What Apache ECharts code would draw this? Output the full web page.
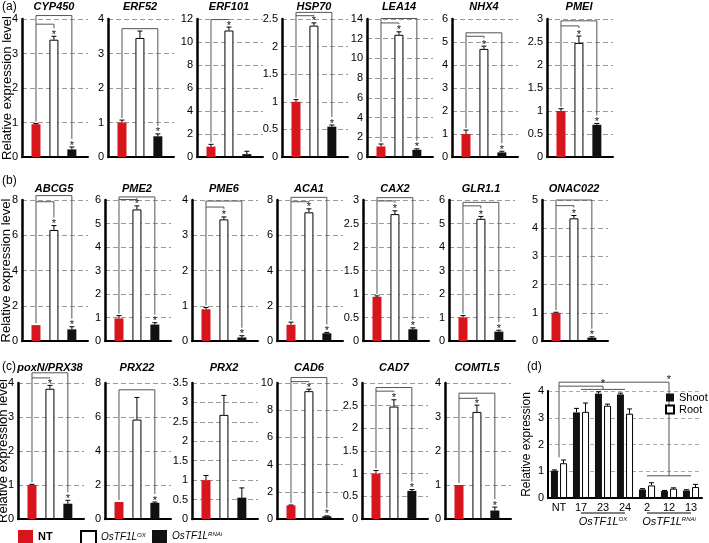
<!DOCTYPE html>
<html>
<head>
<meta charset="utf-8">
<title>OsTF1L target genes</title>
<script src="https://cdn.jsdelivr.net/npm/echarts@6/dist/echarts.min.js"></script>
<style>html,body{margin:0;padding:0;background:#fff}</style>
</head>
<body>
<div id="main" style="width:709px;height:543px;"></div>
<script type="text/javascript">
// panels (a)-(c), left to right, row by row
var genes = ['CYP450', 'ERF52', 'ERF101', 'HSP70', 'LEA14', 'NHX4', 'PMEI',
    'ABCG5', 'PME2', 'PME6', 'ACA1', 'CAX2', 'GLR1.1', 'ONAC022',
    'poxN/PRX38', 'PRX22', 'PRX2', 'CAD6', 'CAD7', 'COMTL5'];
var yMax  = [4, 4, 12, 2.5, 14, 6, 3,   8, 6, 4, 8, 3, 6, 5,   4, 8, 3.5, 10, 3, 4];
var yStep = [1, 1, 2, 0.5, 2, 1, 0.5,   2, 1, 1, 2, 0.5, 1, 1,   1, 2, 0.5, 2, 0.5, 1];

var ntVals = [0.95, 1.0, 0.9, 1.0, 1.07, 1.0, 1.0,   0.9, 0.96, 0.9, 0.92, 0.94, 1.0, 1.0,   1.0, 1.0, 1.0, 1.0, 1.0, 1.0];
var ntErr  = [0.02, 0.07, 0.2, 0.04, 0.25, 0.17, 0.05,   0, 0.12, 0.05, 0.15, 0.02, 0.08, 0.02,   0.02, 0, 0.12, 0.03, 0.07, 0];
var oxVals = [3.4, 3.45, 11.0, 2.38, 12.4, 4.7, 2.48,   6.3, 5.6, 3.45, 7.3, 2.7, 5.2, 4.35,   3.83, 5.85, 2.68, 9.4, 2.48, 3.15];
var oxErr  = [0.1, 0.2, 0.3, 0.05, 0.3, 0.12, 0.15,   0.25, 0.15, 0.07, 0.2, 0.07, 0.1, 0.1,   0.1, 1.3, 0.5, 0.15, 0.15, 0.2];
var riVals = [0.22, 0.6, 0.25, 0.55, 0.73, 0.2, 0.7,   0.66, 0.7, 0.1, 0.44, 0.25, 0.4, 0.12,   0.45, 0.95, 0.55, 0.2, 0.62, 0.25];
var riErr  = [0.07, 0.07, 0.25, 0.03, 0.1, 0.05, 0.03,   0.15, 0.08, 0.05, 0.05, 0.03, 0.06, 0.03,   0.1, 0.05, 0.25, 0.03, 0.03, 0.1];
var oxStar = [1, 0, 1, 1, 1, 1, 1,   1, 1, 1, 1, 1, 1, 1,   1, 0, 0, 1, 1, 1];
var riStar = [1, 1, 0, 1, 1, 1, 1,   1, 1, 1, 1, 1, 1, 1,   1, 1, 0, 1, 1, 1];
// bracket heights (data units) for NT-vs-OX and NT-vs-RNAi
var innerBr = [3.85, null, 11.95, 2.56, 13.6, 5.25, 2.85,   7.9, 6.02, 3.8, 7.9, 2.98, 5.75, 4.8,   4.15, null, null, 10.1, 2.82, 3.55];
var outerBr = [4.1, 3.72, null, 2.62, 14.05, 5.4, 2.96,   8.25, 6.13, 3.97, 8.15, 3.05, 5.9, 5.0,   4.3, 7.6, null, 10.4, 2.9, 3.7];

// panel (d)
var dLines = ['NT', '17', '23', '24', '2', '12', '13'];
var shootVals = [1.02, 3.2, 3.9, 3.87, 0.32, 0.26, 0.28];
var shootErr  = [0.03, 0.15, 0.07, 0.05, 0.03, 0.02, 0.03];
var rootVals  = [1.3, 3.22, 3.45, 3.15, 0.47, 0.35, 0.41];
var rootErr   = [0.12, 0.33, 0.06, 0.18, 0.1, 0.03, 0.1];

var FONT = 'Liberation Sans, Arial, Helvetica, sans-serif';
var RED = '#d8141c';

var rows = [
    {label: '(a)', labelY: 7, titleY: 7, top: 19, height: 138, nameGap: 8, lefts: [22, 108, 197, 282, 367, 452, 547]},
    {label: '(b)', labelY: 181, titleY: 189, top: 200, height: 141, nameGap: 9, lefts: [22, 105, 192, 277, 363, 449, 542]},
    {label: '(c)', labelY: 367, titleY: 368, top: 383, height: 136, nameGap: 8, lefts: [18, 105, 192, 277, 362, 445]}
];

var myChart = echarts.init(document.getElementById('main'));

function txt(x, y, s, font, align) {
    return {type: 'text', x: x, y: y, silent: true,
        style: {text: s, font: font, fill: '#000', textAlign: align || 'left', align: align || 'left',
            textVerticalAlign: 'middle', verticalAlign: 'middle'}};
}

function ln(kids, x1, y1, x2, y2, color) {
    kids.push({type: 'line', shape: {x1: x1, y1: y1, x2: x2, y2: y2},
        style: {stroke: color || '#555', lineWidth: 1}});
}

function star(kids, x, y) {
    kids.push({type: 'text', x: x, y: y + 4,
        style: {text: '*', fontSize: 11, fontFamily: FONT, fill: '#111',
            textAlign: 'center', align: 'center', textVerticalAlign: 'bottom', verticalAlign: 'bottom'}});
}

// error bar (+ star) on one bar, dx = pixel shift from category centre
function errRender(dx) {
    return function (params, api) {
        var x = api.value(0), v = api.value(1), e = api.value(2), s = api.value(3);
        var base = api.coord([x, v]), tip = api.coord([x, v + e]);
        var cx = base[0] + dx;
        var kids = [];
        if (e > 0) {
            ln(kids, cx, base[1], cx, tip[1], '#000');
            ln(kids, cx - 2.5, tip[1], cx + 2.5, tip[1], '#000');
        }
        if (s) star(kids, cx, tip[1]);
        return {type: 'group', children: kids};
    };
}

function bracketRender(i) {
    return function (params, api) {
        var inr = innerBr[i], out = outerBr[i];
        var kids = [];
        if (inr == null && out == null) return {type: 'group', children: kids};
        var xN = api.coord([1, 0])[0], xO = api.coord([2, 0])[0], xR = api.coord([3, 0])[0];
        var yN = api.coord([1, ntVals[i] + ntErr[i]])[1] - 2;
        var top = Infinity, y;
        if (inr != null) {
            y = api.coord([2, inr])[1];
            top = Math.min(top, y);
            ln(kids, xN, y, xO, y);
            ln(kids, xO, y, xO, api.coord([2, oxVals[i] + oxErr[i]])[1] - 8);
        }
        if (out != null) {
            y = api.coord([3, out])[1];
            top = Math.min(top, y);
            ln(kids, xN, y, xR, y);
            ln(kids, xR, y, xR, api.coord([3, riVals[i] + riErr[i]])[1] - 8);
        }
        ln(kids, xN, top, xN, yN);
        return {type: 'group', children: kids};
    };
}

var grids = [], xAxes = [], yAxes = [], series = [], graphics = [];
var k = 0;
rows.forEach(function (row) {
    graphics.push(txt(2, row.labelY, row.label, '12px ' + FONT));
    row.lefts.forEach(function (left, j) {
        var i = k++;
        grids.push({left: left, top: row.top, width: 66, height: row.height, outerBoundsMode: 'none'});
        xAxes.push({type: 'value', gridIndex: i, min: 0.22, max: 3.9,
            axisLine: {show: true, onZero: false, lineStyle: {color: '#000', width: 2}},
            axisTick: {show: false}, axisLabel: {show: false}, splitLine: {show: false}});
        yAxes.push({type: 'value', gridIndex: i, min: 0, max: yMax[i], interval: yStep[i],
            name: j === 0 ? 'Relative expression level' : '',
            nameLocation: 'middle', nameGap: row.nameGap, nameMoveOverlap: false,
            nameTextStyle: {fontSize: 13, color: '#000', fontFamily: FONT},
            axisLine: {show: true, lineStyle: {color: '#000', width: 2.5}},
            axisTick: {show: false},
            axisLabel: {fontSize: 11, color: '#000', margin: 4, fontFamily: FONT},
            splitLine: {show: true, lineStyle: {color: '#999', width: 1, type: [5, 3]}}});
        graphics.push(txt(left + 32, row.titleY, genes[i], 'italic bold 11px ' + FONT, 'center'));
        series.push({type: 'bar', xAxisIndex: i, yAxisIndex: i, barWidth: 9, silent: true,
            data: [
                {value: [1, ntVals[i]], itemStyle: {color: RED}},
                {value: [2, oxVals[i]], itemStyle: {color: '#fff', borderColor: '#000', borderWidth: 1}},
                {value: [3, riVals[i]], itemStyle: {color: '#111'}}
            ]});
        series.push({type: 'custom', xAxisIndex: i, yAxisIndex: i, clip: false, silent: true, z: 3,
            renderItem: errRender(0),
            data: [[1, ntVals[i], ntErr[i], 0], [2, oxVals[i], oxErr[i], oxStar[i]], [3, riVals[i], riErr[i], riStar[i]]]});
        series.push({type: 'custom', xAxisIndex: i, yAxisIndex: i, clip: false, silent: true, z: 3,
            renderItem: bracketRender(i), data: [[1, 0]]});
    });
});

// panel (d)
var D = k;
graphics.push(txt(527, 367, '(d)', '12px ' + FONT));
grids.push({left: 548, top: 391, width: 154, height: 107, outerBoundsMode: 'none'});
xAxes.push({type: 'category', gridIndex: D, data: dLines,
    axisLine: {show: true, lineStyle: {color: '#000', width: 2}},
    axisTick: {show: false},
    axisLabel: {fontSize: 11, color: '#000', margin: 4, fontFamily: FONT}});
yAxes.push({type: 'value', gridIndex: D, min: 0, max: 4, interval: 1,
    name: 'Relative expression', nameLocation: 'middle', nameGap: 15, nameMoveOverlap: false,
    nameTextStyle: {fontSize: 12, color: '#000', fontFamily: FONT},
    axisLine: {show: true, lineStyle: {color: '#000', width: 2}},
    axisTick: {show: false},
    axisLabel: {fontSize: 11, color: '#000', margin: 4, fontFamily: FONT},
    splitLine: {show: true, lineStyle: {color: '#aaa', width: 1, type: [4, 3]}}});
series.push({type: 'bar', name: 'Shoot', xAxisIndex: D, yAxisIndex: D, barWidth: 7, barGap: '30%',
    itemStyle: {color: '#111'}, data: shootVals});
series.push({type: 'bar', name: 'Root', xAxisIndex: D, yAxisIndex: D, barWidth: 7, barGap: '30%',
    itemStyle: {color: '#fff', borderColor: '#000', borderWidth: 1}, data: rootVals});
series.push({type: 'custom', xAxisIndex: D, yAxisIndex: D, clip: false, silent: true, z: 3,
    renderItem: errRender(-4.5),
    data: dLines.map(function (c, n) { return [n, shootVals[n], shootErr[n], 0]; })});
series.push({type: 'custom', xAxisIndex: D, yAxisIndex: D, clip: false, silent: true, z: 3,
    renderItem: errRender(4.5),
    data: dLines.map(function (c, n) { return [n, rootVals[n], rootErr[n], 0]; })});
// significance brackets and genotype group labels of (d)
series.push({type: 'custom', xAxisIndex: D, yAxisIndex: D, clip: false, silent: true, z: 3,
    data: [[0, 0]],
    renderItem: function (params, api) {
        var kids = [];
        function p(x, y) { return api.coord([x, y]); }
        var a = p(0, 4.33), b = p(5, 4.33);
        ln(kids, a[0], a[1], b[0], b[1]);
        star(kids, b[0], b[1] - 1);
        ln(kids, a[0], a[1], a[0], p(0, 1.52)[1]);
        ln(kids, p(-0.3, 1.52)[0], p(0, 1.52)[1], p(0.35, 1.52)[0], p(0, 1.52)[1]);
        ln(kids, b[0], b[1], b[0], p(5, 0.83)[1]);
        ln(kids, p(3.72, 0)[0], p(0, 0.83)[1], p(6.35, 0)[0], p(0, 0.83)[1]);
        var c = p(0, 4.18), d = p(2, 4.18);
        ln(kids, c[0], c[1], d[0], d[1]);
        star(kids, d[0], d[1] - 1);
        ln(kids, d[0], d[1], d[0], p(2, 4.06)[1]);
        ln(kids, p(0.67, 0)[0], p(0, 4.06)[1], p(3.3, 0)[0], p(0, 4.06)[1]);
        var y0 = p(0, 0)[1];
        var groups = [[0.62, 3.35, 2, 'OX'], [3.75, 6.35, 5, 'RNAi']];
        groups.forEach(function (g) {
            ln(kids, p(g[0], 0)[0], y0 + 15, p(g[1], 0)[0], y0 + 15, '#000');
            kids.push({type: 'text', x: p(g[2], 0)[0], y: y0 + 24,
                style: {text: '{i|OsTF1L}{s|' + g[3] + '}',
                    rich: {i: {fontSize: 11, fontStyle: 'italic', fontFamily: FONT, fill: '#000', color: '#000'},
                        s: {fontSize: 6, fontStyle: 'italic', fontFamily: FONT, verticalAlign: 'top', fill: '#000', color: '#000'}},
                    textAlign: 'center', align: 'center', textVerticalAlign: 'middle', verticalAlign: 'middle'}});
        });
        return {type: 'group', children: kids};
    }});

// hidden grid that only carries the legend entries of (a)-(c)
var H = D + 1;
grids.push({left: 0, top: 0, width: 1, height: 1, show: false});
xAxes.push({type: 'value', gridIndex: H, show: false});
yAxes.push({type: 'value', gridIndex: H, show: false});
series.push({type: 'bar', name: 'NT', xAxisIndex: H, yAxisIndex: H, data: [], itemStyle: {color: RED}});
series.push({type: 'bar', name: 'OX', xAxisIndex: H, yAxisIndex: H, data: [],
    itemStyle: {color: '#fff', borderColor: '#000', borderWidth: 1}});
series.push({type: 'bar', name: 'RNAi', xAxisIndex: H, yAxisIndex: H, data: [], itemStyle: {color: '#111'}});

var legendRich = {
    b: {fontSize: 11, fontWeight: 'bold', fontFamily: FONT},
    i: {fontSize: 10, fontStyle: 'italic', fontFamily: FONT},
    s: {fontSize: 6, fontStyle: 'italic', fontFamily: FONT, verticalAlign: 'top'}
};
function legendItem(name, left) {
    return {data: [name], left: left, top: 530, padding: 0,
        itemWidth: 15, itemHeight: 13, icon: 'rect', selectedMode: false,
        formatter: function (n) {
            return n === 'NT' ? '{b|NT}' : '{i|OsTF1L}{s|' + n + '}';
        },
        textStyle: {color: '#000', rich: legendRich}};
}

option = {
    backgroundColor: '#fff',
    animation: false,
    textStyle: {fontFamily: FONT},
    grid: grids,
    xAxis: xAxes,
    yAxis: yAxes,
    legend: [
        legendItem('NT', 18),
        legendItem('OX', 80),
        legendItem('RNAi', 152),
        {data: ['Shoot', 'Root'], orient: 'vertical', left: 665, top: 392, padding: 0, itemGap: 1,
            itemWidth: 8, itemHeight: 8, icon: 'rect', selectedMode: false,
            textStyle: {fontSize: 11, color: '#000', fontFamily: FONT}}
    ],
    graphic: graphics,
    series: series
};

myChart.setOption(option);
</script>
</body>
</html>
